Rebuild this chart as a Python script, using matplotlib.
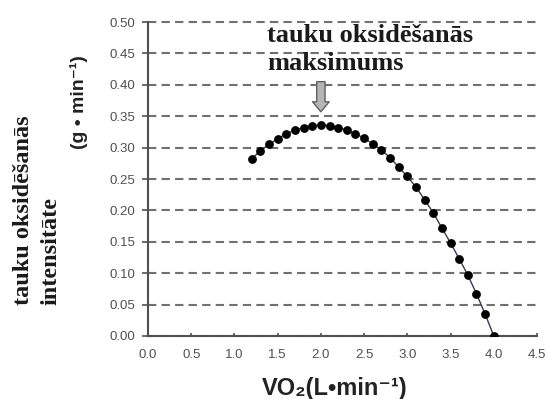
import numpy as np
import matplotlib
matplotlib.use('Agg')
import matplotlib.pyplot as plt

# VO2 (L/min) and fat oxidation rate (g/min)
vo2 = [1.2, 1.3, 1.4, 1.5, 1.6, 1.7, 1.8, 1.9, 2.0, 2.1,
       2.2, 2.3, 2.4, 2.5, 2.6, 2.7, 2.8, 2.9, 3.0, 3.1,
       3.2, 3.3, 3.4, 3.5, 3.6, 3.7, 3.8, 3.9, 4.0]
fat_ox = [0.282, 0.295, 0.305, 0.314, 0.322, 0.328, 0.332, 0.335, 0.336, 0.335,
          0.332, 0.328, 0.322, 0.315, 0.306, 0.296, 0.284, 0.269, 0.254, 0.237,
          0.217, 0.196, 0.172, 0.148, 0.123, 0.097, 0.067, 0.035, 0.0]

x_ticks = np.arange(0, 4.51, 0.5)
y_ticks = np.arange(0, 0.501, 0.05)

serif = ['Liberation Serif', 'DejaVu Serif']
sans = ['Liberation Sans', 'DejaVu Sans']

fig = plt.figure(figsize=(5.47, 3.99), dpi=100)
ax = fig.add_axes([148 / 547, 63 / 399, 389 / 547, 314 / 399])

ax.plot(vo2, fat_ox, color='#3a3a55', linewidth=1, marker='o',
        markersize=5.3, markerfacecolor='black', markeredgecolor='black', zorder=3)

ax.set_xlim(0, 4.5)
ax.set_ylim(0, 0.5)
ax.set_xticks(x_ticks)
ax.set_yticks(y_ticks)
ax.set_xticklabels(['%.1f' % v for v in x_ticks])
ax.set_yticklabels(['%.2f' % v for v in y_ticks])

for s in ['top', 'right']:
    ax.spines[s].set_visible(False)
for s in ['left', 'bottom']:
    ax.spines[s].set_color('#505050')
    ax.spines[s].set_linewidth(1.5)

ax.tick_params(axis='y', direction='out', length=4, width=1.2, color='#505050',
               labelsize=9.5, labelcolor='#505050', pad=5)
ax.tick_params(axis='x', direction='in', length=2, width=1.2, color='#505050',
               labelsize=9.5, labelcolor='#505050', pad=9)
for lab in ax.get_xticklabels() + ax.get_yticklabels():
    lab.set_family(sans)

ax.yaxis.grid(True, linestyle=(0, (4, 2.5)), color='#707070', linewidth=1.5)
for gl in ax.get_ygridlines():
    gl.set_clip_on(False)
ax.set_axisbelow(True)

# arrow pointing at the maximum
ax.annotate('', xy=(2.0, 0.357), xytext=(2.0, 0.405),
            arrowprops=dict(arrowstyle='simple,head_width=1.0,head_length=0.6,tail_width=0.5',
                            mutation_scale=12, fc='#b5b5b5', ec='#606060',
                            shrinkA=0, shrinkB=0))

ax.text(1.376, 0.497, 'tauku oksidēšanās\nmaksimums', family=serif,
        fontweight='bold', fontsize=19, color='#1a1a1a', va='top', ha='left',
        linespacing=1.3)

fig.text(37 / 547, (399 - 305) / 399, 'tauku oksidēšanās\nintensitāte',
         family=serif, fontweight='bold', fontsize=17.5, color='#1a1a1a',
         rotation=90, multialignment='left', ha='center', va='bottom',
         linespacing=1.4)

fig.text(79 / 547, (399 - 102) / 399, '(g • min⁻¹)', family=sans,
         fontweight='bold', fontsize=14, color='#222222', rotation=90,
         ha='center', va='center')

fig.text(335 / 547, 0.027, 'VO₂(L•min⁻¹)', family=sans, fontweight='bold',
         fontsize=17, color='#222222', ha='center', va='center')

fig.savefig('out.png', dpi=100)
